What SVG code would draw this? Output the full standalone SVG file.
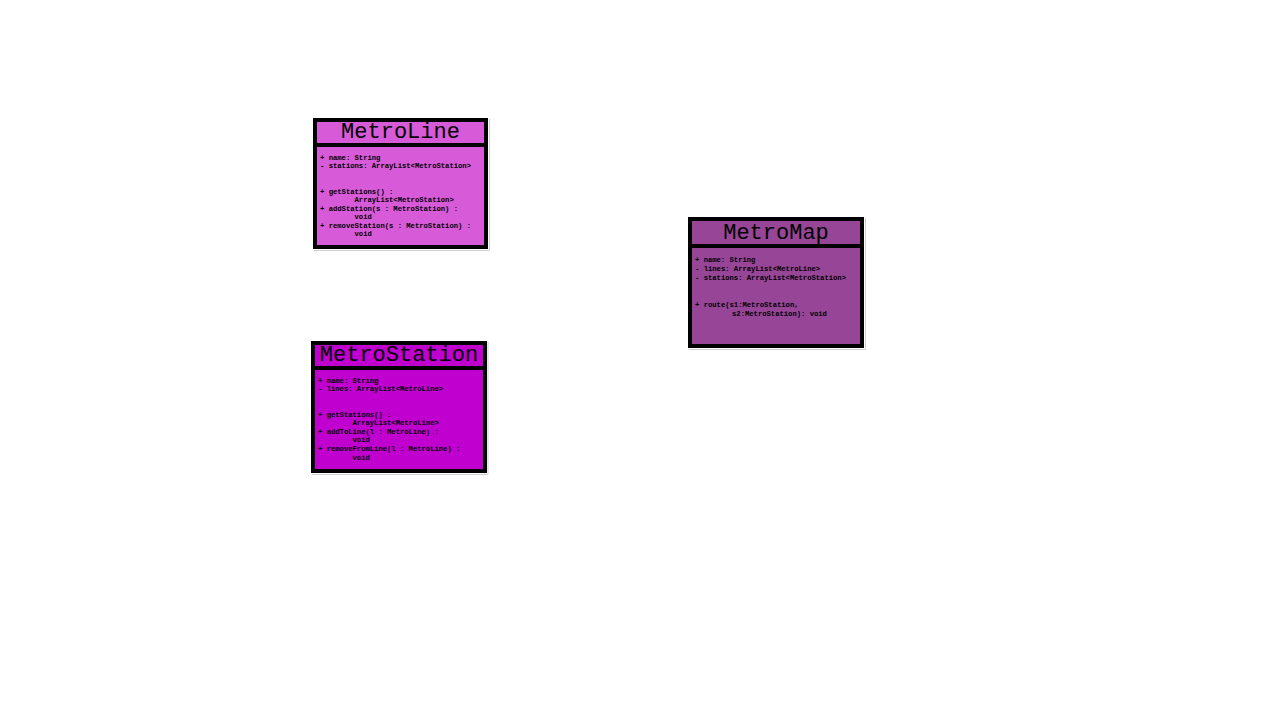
<svg xmlns="http://www.w3.org/2000/svg" width="1280" height="720" viewBox="0 0 1280 720">
<style>
.box{stroke:#000;stroke-width:4}
.sep{stroke:#000;stroke-width:4}
.shadow{fill:none;stroke:#d0d0d0;stroke-width:1}
.title{font-family:"Liberation Mono","Courier New",monospace;font-size:22px;fill:#000;text-anchor:middle}
.body{font-family:"Liberation Mono","Courier New",monospace;font-size:7.2px;font-weight:bold;fill:#000}
</style>
<rect width="1280" height="720" fill="#fff"/>
<g id="connectors"></g>
<g id="MetroLine">
<path class="shadow" d="M489.5 119 V250.5 H314"/>
<rect class="box" x="315" y="120" width="171" height="127" fill="#d75bd8"/>
<line class="sep" x1="315" y1="145" x2="486" y2="145"/>
<text class="title" x="400.5" y="138">MetroLine</text>
<text class="body" x="320" y="159.5">+ name: String</text>
<text class="body" x="320" y="168">- stations: ArrayList&lt;MetroStation&gt;</text>
<text class="body" x="320" y="193.5">+ getStations() :</text>
<text class="body" x="354.5" y="202">ArrayList&lt;MetroStation&gt;</text>
<text class="body" x="320" y="210.5">+ addStation(s : MetroStation) :</text>
<text class="body" x="354.5" y="219">void</text>
<text class="body" x="320" y="227.5">+ removeStation(s : MetroStation) :</text>
<text class="body" x="354.5" y="236">void</text>
</g>
<g id="MetroStation">
<path class="shadow" d="M488 342 V474.5 H312"/>
<rect class="box" x="313" y="343" width="172" height="128" fill="#bf00cf"/>
<line class="sep" x1="313" y1="368" x2="485" y2="368"/>
<text class="title" x="399" y="361">MetroStation</text>
<text class="body" x="318" y="382.5">+ name: String</text>
<text class="body" x="318" y="391">- lines: ArrayList&lt;MetroLine&gt;</text>
<text class="body" x="318" y="416.5">+ getStations() :</text>
<text class="body" x="352.5" y="425">ArrayList&lt;MetroLine&gt;</text>
<text class="body" x="318" y="433.5">+ addToLine(l : MetroLine) :</text>
<text class="body" x="352.5" y="442">void</text>
<text class="body" x="318" y="451">+ removeFromLine(l : MetroLine) :</text>
<text class="body" x="352.5" y="459.5">void</text>
</g>
<g id="MetroMap">
<path class="shadow" d="M865.5 218 V349.5 H689"/>
<rect class="box" x="690" y="219" width="172" height="127" fill="#974597"/>
<line class="sep" x1="690" y1="246" x2="862" y2="246"/>
<text class="title" x="776" y="239">MetroMap</text>
<text class="body" x="695" y="261.5">+ name: String</text>
<text class="body" x="695" y="270.5">- lines: ArrayList&lt;MetroLine&gt;</text>
<text class="body" x="695" y="279.5">- stations: ArrayList&lt;MetroStation&gt;</text>
<text class="body" x="695" y="306.5">+ route(s1:MetroStation,</text>
<text class="body" x="732" y="316">s2:MetroStation): void</text>
</g>
</svg>
